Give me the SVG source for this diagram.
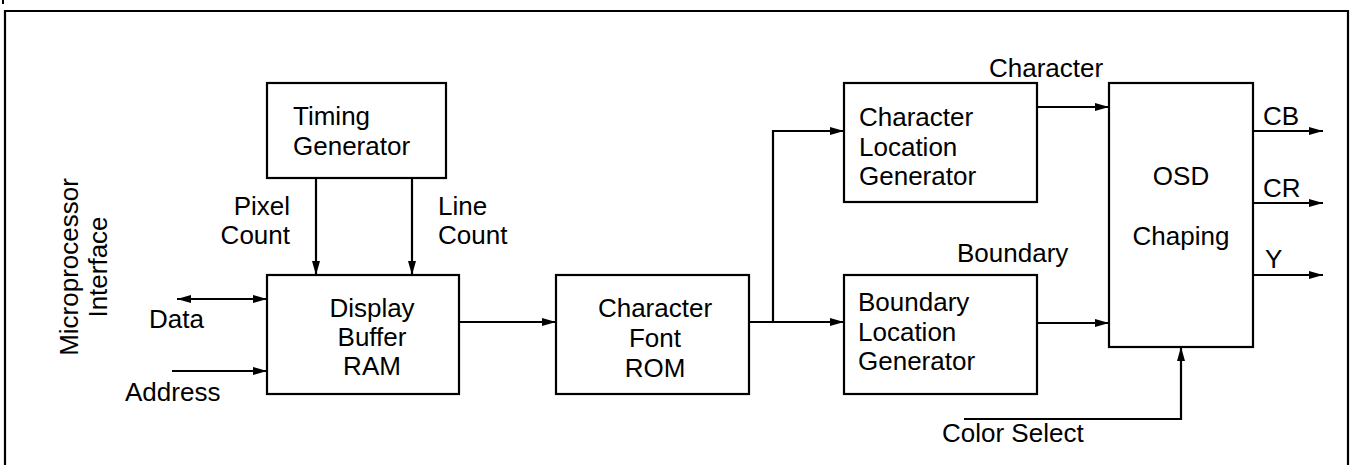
<svg xmlns="http://www.w3.org/2000/svg" width="1352" height="465" viewBox="0 0 1352 465">
<style>
.box{fill:#fff;stroke:#000;stroke-width:2.2}
.ln{fill:none;stroke:#000;stroke-width:2.2}
text{font-family:"Liberation Sans",Arial,sans-serif;font-size:26px;fill:#000}
.c{text-anchor:middle}
.e{text-anchor:end}
</style>
<defs>
<marker id="ah" markerUnits="userSpaceOnUse" markerWidth="14" markerHeight="8" refX="14" refY="4" orient="auto-start-reverse" viewBox="0 0 14 8">
<path d="M0,0 L14,4 L0,8 z" fill="#000"/>
</marker>
</defs>
<rect width="1352" height="465" fill="#fff"/>
<line x1="3" y1="0" x2="3" y2="4" stroke="#000" stroke-width="2"/>
<path class="ln" d="M5,465 V11 H1348 V465"/>

<g id="connectors">
<line class="ln" x1="316" y1="178" x2="316" y2="275" marker-end="url(#ah)"/>
<line class="ln" x1="412" y1="178" x2="412" y2="275" marker-end="url(#ah)"/>
<line class="ln" x1="177" y1="299" x2="267" y2="299" marker-start="url(#ah)" marker-end="url(#ah)"/>
<line class="ln" x1="172" y1="371" x2="267" y2="371" marker-end="url(#ah)"/>
<line class="ln" x1="459" y1="322" x2="556" y2="322" marker-end="url(#ah)"/>
<line class="ln" x1="749" y1="322" x2="844" y2="322" marker-end="url(#ah)"/>
<path class="ln" d="M773,322 V131 H844" marker-end="url(#ah)"/>
<line class="ln" x1="1037" y1="107" x2="1109" y2="107" marker-end="url(#ah)"/>
<line class="ln" x1="1037" y1="323" x2="1109" y2="323" marker-end="url(#ah)"/>
<path class="ln" d="M964,419 H1181 V347" marker-end="url(#ah)"/>
<line class="ln" x1="1253" y1="131" x2="1323" y2="131" marker-end="url(#ah)"/>
<line class="ln" x1="1253" y1="203" x2="1323" y2="203" marker-end="url(#ah)"/>
<line class="ln" x1="1253" y1="275" x2="1323" y2="275" marker-end="url(#ah)"/>
</g>

<g id="labels">
<text x="70" y="267" class="c" transform="rotate(-90 70 267)" dy="8">Microprocessor</text>
<text x="99" y="267" class="c" transform="rotate(-90 99 267)" dy="8">Interface</text>
<text x="290" y="215" class="e">Pixel</text>
<text x="290" y="244" class="e">Count</text>
<text x="438" y="215">Line</text>
<text x="438" y="244">Count</text>
<text x="149" y="328">Data</text>
<text x="125" y="401">Address</text>
<text x="989" y="77">Character</text>
<text x="957" y="262">Boundary</text>
<text x="942" y="442">Color Select</text>
<text x="1263" y="125">CB</text>
<text x="1263" y="197">CR</text>
<text x="1265" y="268">Y</text>
</g>

<g id="timing">
<rect class="box" x="267" y="83" width="179" height="95"/>
<text x="293" y="125">Timing</text>
<text x="293" y="155">Generator</text>
</g>
<g id="display">
<rect class="box" x="267" y="275" width="192" height="119"/>
<text x="372" y="317" class="c">Display</text>
<text x="372" y="346" class="c">Buffer</text>
<text x="372" y="375" class="c">RAM</text>
</g>
<g id="font">
<rect class="box" x="556" y="275" width="193" height="119"/>
<text x="655" y="317" class="c">Character</text>
<text x="655" y="347" class="c">Font</text>
<text x="655" y="377" class="c">ROM</text>
</g>
<g id="charloc">
<rect class="box" x="844" y="83" width="193" height="119"/>
<text x="859" y="126">Character</text>
<text x="859" y="156">Location</text>
<text x="859" y="185">Generator</text>
</g>
<g id="boundloc">
<rect class="box" x="844" y="275" width="193" height="119"/>
<text x="858" y="311">Boundary</text>
<text x="858" y="341">Location</text>
<text x="858" y="370">Generator</text>
</g>
<g id="osd">
<rect class="box" x="1109" y="83" width="144" height="264"/>
<text x="1181" y="185" class="c">OSD</text>
<text x="1181" y="245" class="c">Chaping</text>
</g>
</svg>
